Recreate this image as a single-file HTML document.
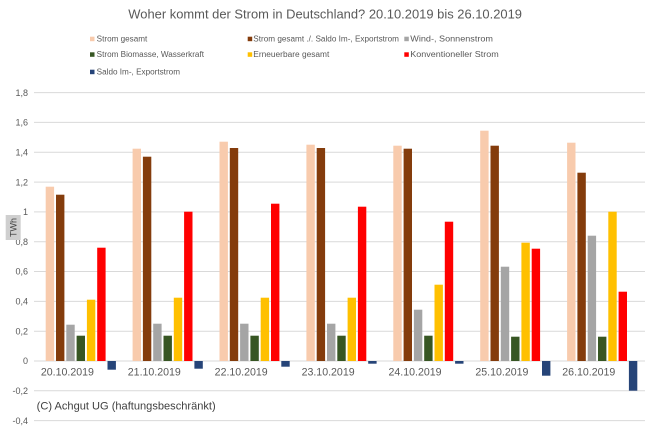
<!DOCTYPE html>
<html><head><meta charset="utf-8"><style>
html,body{margin:0;padding:0;background:#fff;}
svg{display:block;}
text{font-family:"Liberation Sans",Arial,sans-serif;}
</style></head><body>
<svg width="645" height="429" viewBox="0 0 645 429" xmlns="http://www.w3.org/2000/svg">
<rect width="645" height="429" fill="#fff"/>
<text x="128.3" y="18.3" font-size="13" fill="#595959" textLength="393.7" lengthAdjust="spacingAndGlyphs">Woher kommt der Strom in Deutschland? 20.10.2019 bis 26.10.2019</text>
<g font-size="8" fill="#595959">
<rect x="90" y="36.7" width="4.5" height="4.5" fill="#F8CBAD"/>
<text x="96.7" y="41.5" textLength="50.6" lengthAdjust="spacingAndGlyphs">Strom gesamt</text>
<rect x="247.7" y="36.7" width="4.5" height="4.5" fill="#843C0C"/>
<text x="253.3" y="41.5" textLength="145.7" lengthAdjust="spacingAndGlyphs">Strom gesamt ./. Saldo Im-, Exportstrom</text>
<rect x="404.3" y="36.7" width="4.5" height="4.5" fill="#A5A5A5"/>
<text x="410.3" y="41.5" textLength="82.7" lengthAdjust="spacingAndGlyphs">Wind-, Sonnenstrom</text>
<rect x="90" y="52.3" width="4.5" height="4.5" fill="#375623"/>
<text x="96.7" y="57" textLength="107.3" lengthAdjust="spacingAndGlyphs">Strom Biomasse, Wasserkraft</text>
<rect x="247.7" y="52.3" width="4.5" height="4.5" fill="#FFC000"/>
<text x="253.3" y="57" textLength="76" lengthAdjust="spacingAndGlyphs">Erneuerbare gesamt</text>
<rect x="404.3" y="52.3" width="4.5" height="4.5" fill="#FF0000"/>
<text x="410.3" y="57" textLength="88.4" lengthAdjust="spacingAndGlyphs">Konventioneller Strom</text>
<rect x="90" y="69.7" width="4.5" height="4.5" fill="#264478"/>
<text x="96.7" y="74.3" textLength="83.3" lengthAdjust="spacingAndGlyphs">Saldo Im-, Exportstrom</text>
</g>
<g stroke="#D9D9D9" stroke-width="1">
<line x1="34" x2="645" y1="92.6" y2="92.6"/>
<line x1="34" x2="645" y1="122.4" y2="122.4"/>
<line x1="34" x2="645" y1="152.3" y2="152.3"/>
<line x1="34" x2="645" y1="182.1" y2="182.1"/>
<line x1="34" x2="645" y1="211.9" y2="211.9"/>
<line x1="34" x2="645" y1="241.7" y2="241.7"/>
<line x1="34" x2="645" y1="271.5" y2="271.5"/>
<line x1="34" x2="645" y1="301.4" y2="301.4"/>
<line x1="34" x2="645" y1="331.2" y2="331.2"/>
<line x1="34" x2="645" y1="361" y2="361"/>
<line x1="34" x2="645" y1="390.8" y2="390.8"/>
<line x1="34" x2="645" y1="420.6" y2="420.6"/>
</g>
<g font-size="9" fill="#595959" text-anchor="end">
<text x="28" y="95.8">1,8</text>
<text x="28" y="125.6">1,6</text>
<text x="28" y="155.5">1,4</text>
<text x="28" y="185.3">1,2</text>
<text x="28" y="215.1">1</text>
<text x="28" y="244.9">0,8</text>
<text x="28" y="274.7">0,6</text>
<text x="28" y="304.6">0,4</text>
<text x="28" y="334.4">0,2</text>
<text x="28" y="364.2">0</text>
<text x="28" y="394">-0,2</text>
<text x="28" y="423.8">-0,4</text>
</g>
<rect x="5.7" y="215" width="15" height="25" fill="#CFCFCF"/>
<text x="0" y="0" font-size="9" fill="#404040" text-anchor="middle" transform="translate(16.5,227.5) rotate(-90)">TWh</text>
<!-- peach -->
<g fill="#F8CBAD">
<rect x="45.7" y="186.7" width="8.4" height="174.3"/>
<rect x="132.6" y="148.7" width="8.4" height="212.3"/>
<rect x="219.5" y="141.7" width="8.4" height="219.3"/>
<rect x="306.4" y="144.7" width="8.4" height="216.3"/>
<rect x="393.3" y="145.7" width="8.4" height="215.3"/>
<rect x="480.2" y="130.7" width="8.4" height="230.3"/>
<rect x="567.1" y="142.7" width="8.4" height="218.3"/>
</g>
<g fill="#843C0C">
<rect x="56.0" y="194.7" width="8.4" height="166.3"/>
<rect x="142.9" y="156.7" width="8.4" height="204.3"/>
<rect x="229.8" y="148" width="8.4" height="213"/>
<rect x="316.7" y="148" width="8.4" height="213"/>
<rect x="403.6" y="148.7" width="8.4" height="212.3"/>
<rect x="490.5" y="145.7" width="8.4" height="215.3"/>
<rect x="577.4" y="172.7" width="8.4" height="188.3"/>
</g>
<g fill="#A5A5A5">
<rect x="66.3" y="324.7" width="8.4" height="36.3"/>
<rect x="153.2" y="323.7" width="8.4" height="37.3"/>
<rect x="240.1" y="323.7" width="8.4" height="37.3"/>
<rect x="327.0" y="323.7" width="8.4" height="37.3"/>
<rect x="413.9" y="309.7" width="8.4" height="51.3"/>
<rect x="500.8" y="266.7" width="8.4" height="94.3"/>
<rect x="587.7" y="235.7" width="8.4" height="125.3"/>
</g>
<g fill="#375623">
<rect x="76.6" y="335.7" width="8.4" height="25.3"/>
<rect x="163.5" y="335.7" width="8.4" height="25.3"/>
<rect x="250.4" y="335.7" width="8.4" height="25.3"/>
<rect x="337.3" y="335.7" width="8.4" height="25.3"/>
<rect x="424.2" y="335.7" width="8.4" height="25.3"/>
<rect x="511.1" y="336.7" width="8.4" height="24.3"/>
<rect x="598.0" y="336.7" width="8.4" height="24.3"/>
</g>
<g fill="#FFC000">
<rect x="86.9" y="299.7" width="8.4" height="61.3"/>
<rect x="173.8" y="297.7" width="8.4" height="63.3"/>
<rect x="260.7" y="297.7" width="8.4" height="63.3"/>
<rect x="347.6" y="297.7" width="8.4" height="63.3"/>
<rect x="434.5" y="284.7" width="8.4" height="76.3"/>
<rect x="521.4" y="242.7" width="8.4" height="118.3"/>
<rect x="608.3" y="211.7" width="8.4" height="149.3"/>
</g>
<g fill="#FF0000">
<rect x="97.2" y="247.7" width="8.4" height="113.3"/>
<rect x="184.1" y="211.7" width="8.4" height="149.3"/>
<rect x="271.0" y="203.7" width="8.4" height="157.3"/>
<rect x="357.9" y="206.7" width="8.4" height="154.3"/>
<rect x="444.8" y="221.7" width="8.4" height="139.3"/>
<rect x="531.7" y="248.7" width="8.4" height="112.3"/>
<rect x="618.6" y="291.7" width="8.4" height="69.3"/>
</g>
<g fill="#264478">
<rect x="107.5" y="361" width="8.4" height="8.7"/>
<rect x="194.4" y="361" width="8.4" height="7.7"/>
<rect x="281.3" y="361" width="8.4" height="5.7"/>
<rect x="368.2" y="361" width="8.4" height="2.7"/>
<rect x="455.1" y="361" width="8.4" height="2.7"/>
<rect x="542.0" y="361" width="8.4" height="14.7"/>
<rect x="628.9" y="361" width="8.4" height="29.7"/>
</g>
<g font-size="10.6" fill="#595959" text-anchor="middle">
<text x="67.4" y="375.3">20.10.2019</text>
<text x="154.3" y="375.3">21.10.2019</text>
<text x="241.2" y="375.3">22.10.2019</text>
<text x="328.1" y="375.3">23.10.2019</text>
<text x="415.0" y="375.3">24.10.2019</text>
<text x="501.9" y="375.3">25.10.2019</text>
<text x="588.8" y="375.3">26.10.2019</text>
</g>
<text x="36.7" y="409.6" font-size="11" fill="#404040" textLength="179" lengthAdjust="spacingAndGlyphs">(C) Achgut UG (haftungsbeschränkt)</text>
</svg>
</body></html>
